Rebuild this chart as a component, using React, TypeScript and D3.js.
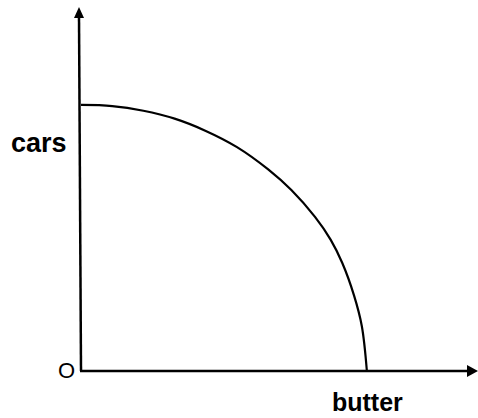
import React from "react";
import * as d3 from "d3";

// production possibility frontier (0..100 units)
const butter = [0, 8, 16, 24, 32, 40, 48, 54, 60, 64, 67, 70, 72, 73.3];
const cars = [73.9, 73.6, 72.3, 70.1, 66.7, 62.2, 56.0, 50.2, 42.8, 36.5, 30.0, 21.0, 12.5, 0];

const xLabel = "butter";
const yLabel = "cars";
const originLabel = "O";

const W = 478;
const H = 418;

const App = () => {
  const x = d3.scaleLinear().domain([0, 100]).range([81, 471]);
  const y = d3.scaleLinear().domain([0, 100]).range([371, 11]);

  const pts: [number, number][] = butter.map((b, i) => [b, cars[i]]);
  const line = d3
    .line<[number, number]>()
    .x((d) => x(d[0]))
    .y((d) => y(d[1]))
    .curve(d3.curveCatmullRom.alpha(0.5));

  const x0 = x(0);
  const y0 = y(0);
  const font = "'Liberation Sans', Arial, sans-serif";

  return (
    <svg
      width={W}
      height={H}
      viewBox={`0 0 ${W} ${H}`}
      style={{ position: "absolute", left: 0, top: 0, background: "#fff" }}
    >
      {/* axes */}
      <line x1={x0} y1={y0} x2={x0 - 2} y2={16} stroke="#000" strokeWidth={2.5} />
      <line x1={x0 - 1} y1={y0} x2={470} y2={y0} stroke="#000" strokeWidth={2.5} />
      {/* arrow heads */}
      <path d={`M${x0 - 2},7 L${x0 - 7},18 L${x0 + 3},18 Z`} fill="#000" />
      <path d={`M478,${y0} L467,${y0 - 6} L467,${y0 + 6} Z`} fill="#000" />

      {/* curve */}
      <path d={line(pts) || ""} fill="none" stroke="#000" strokeWidth={2.2} />

      {/* labels */}
      <text x={11} y={152} fontFamily={font} fontWeight="bold" fontSize={27} fill="#000">
        {yLabel}
      </text>
      <text x={332} y={411} fontFamily={font} fontWeight="bold" fontSize={25} fill="#000">
        {xLabel}
      </text>
      <text x={58} y={378} fontFamily={font} fontSize={22} fill="#000">
        {originLabel}
      </text>
    </svg>
  );
};

export default App;
